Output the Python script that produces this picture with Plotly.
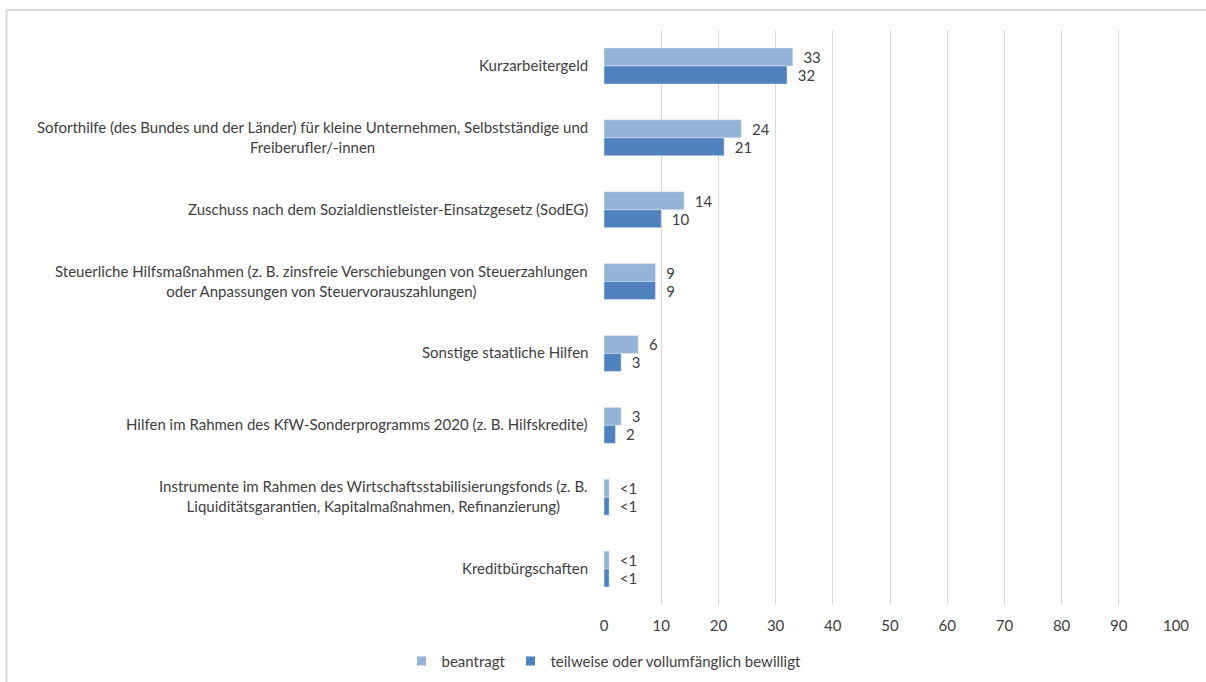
import plotly.graph_objects as go

categories = [
    "Kurzarbeitergeld",
    "Soforthilfe (des Bundes und der Länder) für kleine Unternehmen, Selbstständige und<br>Freiberufler/-innen",
    "Zuschuss nach dem Sozialdienstleister-Einsatzgesetz (SodEG)",
    "Steuerliche Hilfsmaßnahmen (z. B. zinsfreie Verschiebungen von Steuerzahlungen<br>oder Anpassungen von Steuervorauszahlungen)",
    "Sonstige staatliche Hilfen",
    "Hilfen im Rahmen des KfW-Sonderprogramms 2020 (z. B. Hilfskredite)",
    "Instrumente im Rahmen des Wirtschaftsstabilisierungsfonds (z. B.<br>Liquiditätsgarantien, Kapitalmaßnahmen, Refinanzierung)",
    "Kreditbürgschaften",
]
series_names = ["beantragt", "teilweise oder vollumfänglich bewilligt"]
beantragt = [33, 24, 14, 9, 6, 3, 0.9, 0.9]
beantragt_labels = ["33", "24", "14", "9", "6", "3", "<1", "<1"]
bewilligt = [32, 21, 10, 9, 3, 2, 0.9, 0.9]
bewilligt_labels = ["32", "21", "10", "9", "3", "2", "<1", "<1"]
x_ticks = [0, 10, 20, 30, 40, 50, 60, 70, 80, 90, 100]

FONT = "Lato, Carlito, Calibri, sans-serif"
TXT = "#404040"
COLORS = ["#95B3D7", "#4F81BD"]
PAD = "\u00a0\u00a0"

fig = go.Figure()
for name, vals, labs, col in zip(series_names, [beantragt, bewilligt],
                                 [beantragt_labels, bewilligt_labels], COLORS):
    fig.add_trace(go.Bar(
        y=categories, x=vals, orientation="h", name=name, showlegend=False,
        marker=dict(color=col), text=[PAD + t for t in labs],
        textposition="outside", textfont=dict(size=15, color=TXT, family=FONT),
        cliponaxis=False, hoverinfo="skip",
    ))
    fig.add_trace(go.Scatter(
        x=[None], y=[None], mode="markers", name=name,
        marker=dict(symbol="square", size=9, color=col),
    ))

for c in categories:
    fig.add_annotation(
        x=0, xref="paper", y=c, yref="y", xanchor="right", xshift=-14, yshift=1,
        text=c, showarrow=False, align="center",
        font=dict(size=15, color=TXT, family=FONT),
    )

# frame lines (top and left) around the chart area
px_x = lambda p: (p - 604) / 572
px_y = lambda p: (605 - p) / 575
fig.add_shape(type="line", xref="paper", yref="paper",
              x0=px_x(6.5), x1=px_x(1206), y0=px_y(10), y1=px_y(10),
              line=dict(color="#d9d9d9", width=2), layer="below")
fig.add_shape(type="line", xref="paper", yref="paper",
              x0=px_x(6.5), x1=px_x(6.5), y0=px_y(10), y1=px_y(682),
              line=dict(color="#d9d9d9", width=2), layer="below")

fig.update_layout(
    width=1206, height=682,
    margin=dict(l=604, r=30, t=30, b=77, autoexpand=False),
    paper_bgcolor="white", plot_bgcolor="white",
    barmode="group", bargap=0.5, bargroupgap=0,
    font=dict(family=FONT, size=15, color=TXT),
    showlegend=True,
    legend=dict(orientation="h", x=0.0, xanchor="center", y=-0.098, yanchor="middle",
                font=dict(size=15, color=TXT, family=FONT), traceorder="normal",
                itemwidth=30),
    xaxis=dict(range=[0, 100], tickvals=x_ticks, showgrid=True, gridcolor="#d9d9d9",
               gridwidth=1, zeroline=False, showline=False, ticks="outside",
               ticklen=7, tickcolor="rgba(0,0,0,0)", automargin=False,
               tickfont=dict(size=15, color=TXT, family=FONT)),
    yaxis=dict(autorange="reversed", showticklabels=False, showgrid=False,
               zeroline=False, showline=False, ticks="", automargin=False),
)

fig.write_html("out.html", config={"displayModeBar": False},
               post_script="document.body.style.margin='0';")
